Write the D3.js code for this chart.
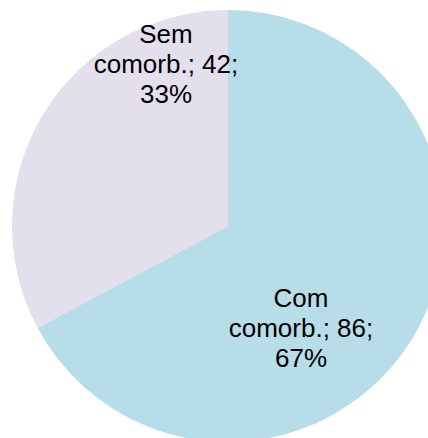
<!DOCTYPE html>
<html><head><meta charset="utf-8">
<script src="https://cdn.jsdelivr.net/npm/d3@7"></script>
<style>body{margin:0;background:#fff}svg{display:block}</style>
</head><body>
<script>
const categories = ["Com comorb.", "Sem comorb."];
const values = [86, 42];
const percents = ["67%", "33%"];
const colors = ["#b7dee8", "#e4dfec"];

const W = 428, H = 438;
const cx = 228, cy = 226, R = 216;
// label anchor offsets (layout), relative to pie centre
const labelPos = [[73, 81], [-62, -183]];

const svg = d3.select("body").append("svg").attr("width", W).attr("height", H);
const g = svg.append("g").attr("transform", `translate(${cx},${cy})`);
const pie = d3.pie().sort(null).value(d => d)(values);
const arc = d3.arc().innerRadius(0).outerRadius(R);
g.selectAll("path").data(pie).join("path")
  .attr("d", arc).attr("fill", (d, i) => colors[i]);

const lines = categories.map((c, i) => {
  const parts = c.split(" ");
  return [parts[0], parts.slice(1).join(" ") + "; " + values[i] + ";", percents[i]];
});
g.selectAll("text.lbl").data(lines).join("text")
  .attr("class", "lbl")
  .attr("font-family", "Liberation Sans, Arial, sans-serif")
  .attr("font-size", 26)
  .attr("fill", "#000")
  .attr("text-anchor", "middle")
  .each(function (d, i) {
    const t = d3.select(this);
    d.forEach((s, k) => t.append("tspan").attr("x", labelPos[i][0]).attr("y", labelPos[i][1] + k * 30).text(s));
  });
</script>
</body></html>
